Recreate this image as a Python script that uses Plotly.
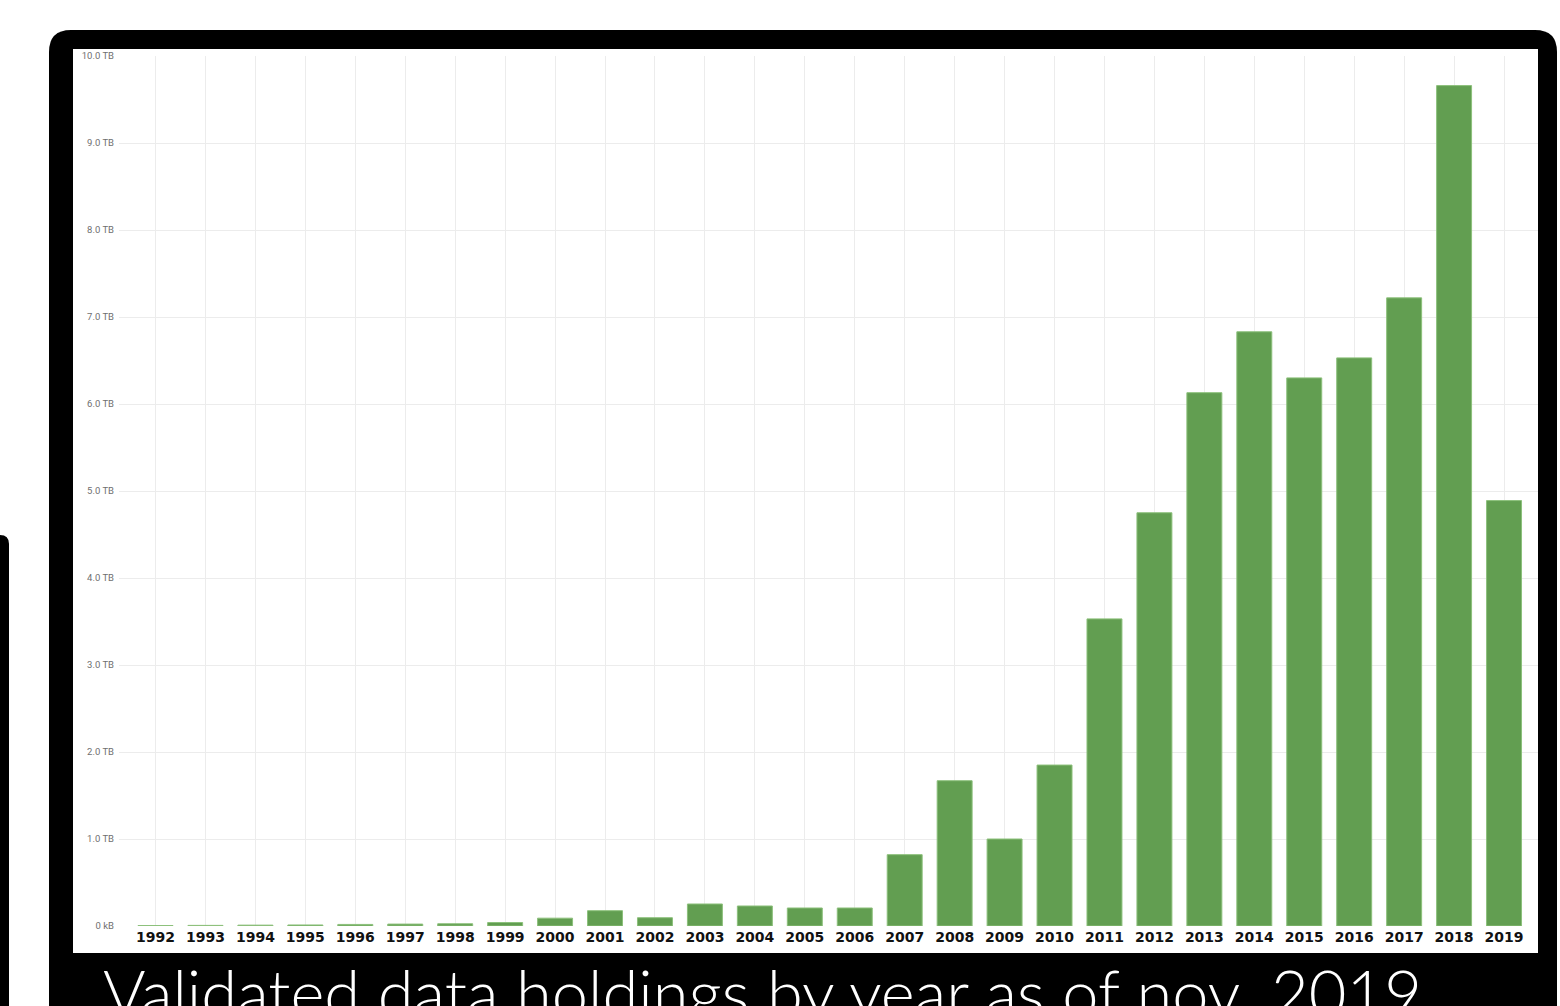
import plotly.graph_objects as go

W, H = 1560, 1006

years = [str(y) for y in range(1992, 2020)]
holdings_tb = [0.005, 0.007, 0.010, 0.012, 0.018, 0.022, 0.026, 0.040, 0.090,
               0.176, 0.095, 0.253, 0.230, 0.207, 0.207, 0.82, 1.67, 1.00,
               1.85, 3.53, 4.75, 6.13, 6.83, 6.30, 6.53, 7.22, 9.66, 4.89]
ytick_vals = list(range(0, 11))
ytick_text = ["0 kB"] + [f"{v}.0 TB" for v in range(1, 11)]
caption = "Validated data holdings by year as of nov. 2019"


def px(x, y):
    return f"{x / W:.5f},{1 - y / H:.5f}"


def rounded_rect(x0, y0, x1, y1, r, corners=("tl", "tr", "br", "bl")):
    p = []
    if "tl" in corners:
        p.append(f"M{px(x0, y0 + r)} Q{px(x0, y0)} {px(x0 + r, y0)}")
    else:
        p.append(f"M{px(x0, y0)}")
    if "tr" in corners:
        p.append(f"L{px(x1 - r, y0)} Q{px(x1, y0)} {px(x1, y0 + r)}")
    else:
        p.append(f"L{px(x1, y0)}")
    p.append(f"L{px(x1, y1)} L{px(x0, y1)} Z")
    return " ".join(p)


fig = go.Figure(
    go.Bar(
        x=years,
        y=holdings_tb,
        width=0.7,
        marker=dict(color="#629e51", line=dict(color="#8cc07b", width=1)),
    )
)

shapes = [
    dict(type="path", xref="paper", yref="paper", layer="below",
         path=rounded_rect(49, 30, 1557, 1030, 22, corners=("tl", "tr")),
         fillcolor="black", line=dict(width=0)),
    dict(type="rect", xref="paper", yref="paper", layer="below",
         x0=73 / W, x1=1538 / W, y0=1 - 953 / H, y1=1 - 49 / H,
         fillcolor="white", line=dict(width=0)),
    dict(type="path", xref="paper", yref="paper", layer="below",
         path=rounded_rect(-5, 535, 9, 1030, 9, corners=("tr",)),
         fillcolor="black", line=dict(width=0)),
]

fig.update_layout(
    width=W, height=H,
    margin=dict(l=0, r=0, t=0, b=0, autoexpand=False),
    paper_bgcolor="white",
    plot_bgcolor="rgba(0,0,0,0)",
    showlegend=False,
    shapes=shapes,
    bargap=0.3,
    xaxis=dict(
        type="category",
        domain=[119 / W, 1538 / W],
        range=[-0.731, 27.68],
        showgrid=True, gridcolor="#ececec", gridwidth=1,
        showline=False, ticks="", zeroline=False, automargin=False,
        tickfont=dict(family="DejaVu Sans", size=14, color="#111111", weight="bold"),
        ticklabelstandoff=1,
    ),
    yaxis=dict(
        domain=[1 - 926 / H, 1 - 56 / H],
        range=[0, 10],
        tickvals=ytick_vals, ticktext=ytick_text,
        showgrid=True, gridcolor="#ececec", gridwidth=1,
        zeroline=False, showline=False, ticks="", automargin=False,
        tickfont=dict(family="Roboto", size=9.5, color="#6f6f6f"),
        ticklabelstandoff=4,
    ),
    annotations=[
        dict(text=caption, xref="paper", yref="paper",
             x=101 / W, y=1 - 951 / H, xanchor="left", yanchor="top",
             showarrow=False,
             font=dict(family="Lato", size=65, color="white", weight=300)),
    ],
)

fig.write_html(
    "out.html",
    config={"displayModeBar": False},
    post_script="document.body.style.margin='0';document.body.style.padding='0';"
                "document.body.style.overflow='hidden';"
                "document.documentElement.style.overflow='hidden';",
)
